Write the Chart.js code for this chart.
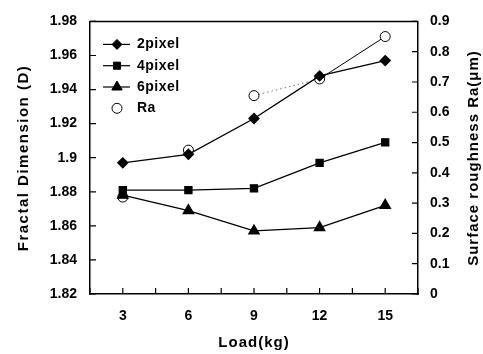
<!DOCTYPE html>
<html>
<head>
<meta charset="utf-8">
<script src="https://cdn.jsdelivr.net/npm/chart.js@4/dist/chart.umd.min.js"></script>
<style>
  html, body { margin: 0; padding: 0; background: #fff; }
  #wrap { width: 483px; height: 354px; }
</style>
</head>
<body>
<div id="wrap"><canvas id="fractalChart" width="483" height="354"></canvas></div>
<script>
const loads = [3, 6, 9, 12, 15];
const px2 = [1.897, 1.902, 1.923, 1.948, 1.957];
const px4 = [1.881, 1.881, 1.882, 1.897, 1.909];
const px6 = [1.878, 1.869, 1.857, 1.859, 1.872];
const ra = [0.32, 0.475, 0.655, 0.71, 0.85];

const FONT = "'Liberation Sans', Arial, sans-serif";

function pts(ys) {
    return loads.map((x, i) => ({ x: x, y: ys[i] }));
}

function vText(c, text, x, y) {
    c.save();
    c.translate(x, y);
    c.rotate(-Math.PI / 2);
    c.textAlign = 'center';
    c.textBaseline = 'middle';
    c.fillText(text, 0, 0);
    c.restore();
}

// inward ticks, frame, axis titles and legend drawn on top of the plot
const decorations = {
    id: 'decorations',
    afterDraw(chart) {
        const c = chart.ctx;
        const a = chart.chartArea;
        const sx = chart.scales.x, sy = chart.scales.y, sr = chart.scales.y2;
        c.save();
        c.strokeStyle = '#000';
        c.lineWidth = 1.5;
        c.beginPath();
        c.moveTo(a.left, a.top); c.lineTo(a.right, a.top);
        c.stroke();
        c.lineWidth = 1.2;
        c.beginPath();
        sy.ticks.forEach(t => {
            const y = sy.getPixelForValue(t.value);
            c.moveTo(a.left, y); c.lineTo(a.left + 6, y);
        });
        sr.ticks.forEach(t => {
            const y = sr.getPixelForValue(t.value);
            c.moveTo(a.right, y); c.lineTo(a.right - 6, y);
        });
        sx.ticks.forEach(t => {
            const x = sx.getPixelForValue(t.value);
            c.moveTo(x, a.bottom); c.lineTo(x, a.bottom - 6);
        });
        c.stroke();

        // axis titles
        c.fillStyle = '#000';
        c.font = 'bold 15px ' + FONT;
        c.letterSpacing = '1.5px';
        vText(c, 'Fractal Dimension (D)', 24, 158);
        c.letterSpacing = '1px';
        vText(c, 'Surface roughness Ra(μm)', 474, 158);
        c.textAlign = 'center';
        c.textBaseline = 'middle';
        c.letterSpacing = '1px';
        c.fillText('Load(kg)', (a.left + a.right) / 2, 343);

        // legend
        const x0 = a.left + 13;
        let y = a.top + 23;
        c.textAlign = 'left';
        c.letterSpacing = '0.5px';
        c.font = 'bold 14px ' + FONT;
        chart.data.datasets.forEach(ds => {
            c.strokeStyle = '#000';
            if (ds.label !== 'Ra') {
                c.lineWidth = 1.2;
                c.beginPath();
                c.moveTo(x0, y); c.lineTo(x0 + 27, y);
                c.stroke();
            }
            c.fillStyle = ds.pointBackgroundColor;
            c.lineWidth = 1;
            Chart.helpers.drawPoint(c, {
                pointStyle: ds.pointStyle,
                radius: ds.pointRadius,
                borderWidth: 1
            }, x0 + 14, y);
            c.fillStyle = '#000';
            c.fillText(ds.label, x0 + 34, y);
            y += 21.3;
        });
        c.restore();
    }
};

const chart = new Chart(document.getElementById('fractalChart').getContext('2d'), {
    type: 'line',
    data: {
        datasets: [
            {
                label: '2pixel', data: pts(px2), yAxisID: 'y',
                borderColor: '#000', backgroundColor: '#000', borderWidth: 1.3,
                pointStyle: 'rectRot', pointRadius: 5, pointBackgroundColor: '#000', pointBorderColor: '#000'
            },
            {
                label: '4pixel', data: pts(px4), yAxisID: 'y',
                borderColor: '#000', backgroundColor: '#000', borderWidth: 1.3,
                pointStyle: 'rect', pointRadius: 5, pointBackgroundColor: '#000', pointBorderColor: '#000'
            },
            {
                label: '6pixel', data: pts(px6), yAxisID: 'y',
                borderColor: '#000', backgroundColor: '#000', borderWidth: 1.3,
                pointStyle: 'triangle', pointRadius: 6, pointBackgroundColor: '#000', pointBorderColor: '#000'
            },
            {
                label: 'Ra', data: pts(ra), yAxisID: 'y2',
                borderColor: '#000', backgroundColor: '#fff', borderWidth: 1,
                pointStyle: 'circle', pointRadius: 5, pointBackgroundColor: '#fff', pointBorderColor: '#000',
                segment: {
                    borderColor: ctx => ctx.p0DataIndex < 2 ? 'rgba(0,0,0,0)' : (ctx.p0DataIndex === 2 ? '#777' : '#000'),
                    borderDash: ctx => ctx.p0DataIndex === 2 ? [1.5, 3] : []
                }
            }
        ]
    },
    options: {
        responsive: false,
        animation: false,
        layout: { padding: { top: 20, left: 0, right: 0, bottom: 0 } },
        plugins: { legend: { display: false }, tooltip: { enabled: false } },
        scales: {
            x: {
                type: 'linear', min: 1.5, max: 16.5,
                afterFit: s => { s.height = 60; },
                grid: { display: false, drawTicks: false },
                border: { display: true, color: '#000', width: 1.5 },
                ticks: {
                    stepSize: 1.5, autoSkip: false, maxRotation: 0, padding: 14,
                    color: '#000', font: { family: FONT, size: 14, weight: 'bold' },
                    callback: v => (Math.abs(v % 3) < 1e-6 && v > 2 && v < 16) ? String(v) : ''
                }
            },
            y: {
                position: 'left', min: 1.82, max: 1.98,
                afterFit: s => { s.width = 90; },
                grid: { display: false, drawTicks: false },
                border: { display: true, color: '#000', width: 1.5 },
                ticks: {
                    stepSize: 0.02, padding: 13, color: '#000',
                    font: { family: FONT, size: 14, weight: 'bold' },
                    callback: v => String(Number(v.toFixed(2)))
                }
            },
            y2: {
                position: 'right', min: 0, max: 0.9,
                afterFit: s => { s.width = 65; },
                grid: { display: false, drawTicks: false },
                border: { display: true, color: '#000', width: 1.5 },
                ticks: {
                    stepSize: 0.1, padding: 12, color: '#000',
                    font: { family: FONT, size: 14, weight: 'bold' },
                    callback: v => String(Number(v.toFixed(1)))
                }
            }
        }
    },
    plugins: [decorations]
});
</script>
</body>
</html>
